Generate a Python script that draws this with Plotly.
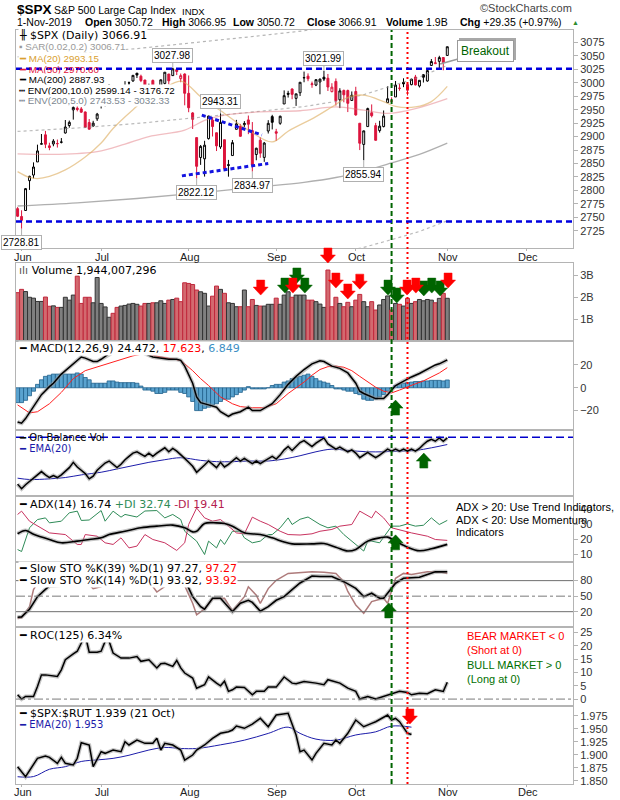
import plotly.graph_objects as go

# ---------------- data ----------------
MONTH_TICKS = [1, 21, 43, 65, 85, 108, 128]
MONTH_LABELS = ["Jun", "Jul", "Aug", "Sep", "Oct", "Nov", "Dec"]

PREV_CLOSE = 2788.86  # close before the first visible bar

OPEN = [
    2766.15, 2751.53, 2762.64, 2818.09, 2828.51, 2852.87, 2885.83, 2903.27, 2882.73, 2886.24,
    2886.82, 2889.75, 2906.71, 2920.55, 2949.60, 2952.71, 2951.42, 2945.78, 2926.07, 2919.66,
    2932.94, 2971.41, 2964.66, 2978.08, 2984.25, 2979.77, 2965.52, 2989.30, 2999.62, 3003.36,
    3017.80, 3012.13, 3005.10, 2978.87, 3004.26, 2981.93, 2994.74, 2998.77, 3016.26, 3013.25,
    3024.47, 3007.66, 3016.22, 2980.32, 2943.90, 2898.07, 2861.18, 2858.65, 2896.21, 2930.51,
    2907.07, 2880.72, 2894.15, 2846.20, 2864.74, 2913.48, 2919.01, 2922.04, 2930.94, 2911.07,
    2866.70, 2893.14, 2861.28, 2910.37, 2937.09, 2909.01, 2924.67, 2960.60, 2980.33, 2988.43,
    2971.01, 2981.41, 3009.08, 3012.21, 2996.41, 2995.67, 3001.50, 3010.36, 3008.42, 2983.50,
    3002.43, 2968.35, 2985.73, 2985.47, 2967.07, 2983.69, 2924.78, 2885.38, 2918.56, 2944.23,
    2920.40, 2911.10, 2918.55, 2963.07, 2965.81, 2973.61, 2989.68, 3000.77, 2996.84, 2996.48,
    3010.73, 2994.01, 3014.78, 3003.32, 3032.12, 3035.39, 3039.74, 3046.90, 3050.72,
]
HIGH = [
    2768.98, 2763.07, 2804.49, 2827.28, 2852.10, 2884.97, 2904.77, 2910.61, 2888.57, 2895.24,
    2894.45, 2897.27, 2930.79, 2929.74, 2958.06, 2964.15, 2954.92, 2946.52, 2932.59, 2929.30,
    2943.98, 2977.93, 2973.21, 2995.84, 2994.03, 2980.76, 2981.90, 3002.98, 3002.33, 3013.92,
    3017.80, 3015.02, 3005.26, 2998.28, 3006.02, 2990.71, 3005.90, 3019.59, 3016.31, 3027.98,
    3025.61, 3017.19, 3017.40, 3013.59, 2945.50, 2898.07, 2884.40, 2892.17, 2938.72, 2935.75,
    2907.58, 2943.31, 2894.15, 2856.67, 2893.63, 2931.00, 2923.63, 2928.73, 2939.08, 2927.01,
    2879.27, 2898.79, 2890.03, 2930.50, 2940.43, 2914.39, 2938.84, 2985.86, 2985.03, 2989.43,
    2979.39, 3000.93, 3020.74, 3017.33, 3002.19, 3006.21, 3007.83, 3021.99, 3016.37, 2999.15,
    3007.98, 2989.82, 2987.28, 2987.31, 2983.85, 2992.53, 2924.78, 2911.13, 2953.74, 2959.75,
    2925.47, 2929.32, 2948.46, 2993.28, 2972.84, 3003.28, 2997.54, 3008.29, 3000.00, 3007.33,
    3014.57, 3004.78, 3016.07, 3027.39, 3044.08, 3047.87, 3050.10, 3046.90, 3066.95,
]
LOW = [
    2750.52, 2728.81, 2762.64, 2800.92, 2822.45, 2852.87, 2885.51, 2878.53, 2874.68, 2881.99,
    2879.62, 2887.30, 2905.44, 2916.51, 2931.50, 2946.87, 2944.05, 2916.01, 2912.99, 2918.57,
    2929.05, 2952.22, 2955.92, 2977.96, 2967.97, 2970.09, 2963.44, 2984.62, 2988.80, 3001.87,
    3008.77, 3001.15, 2984.25, 2973.09, 2975.86, 2976.65, 2988.56, 2996.82, 2997.24, 3012.59,
    3014.30, 3000.94, 2958.08, 2945.23, 2914.11, 2822.12, 2847.42, 2825.71, 2894.47, 2900.15,
    2873.14, 2877.05, 2839.64, 2825.51, 2864.74, 2913.48, 2899.60, 2917.91, 2904.51, 2834.97,
    2856.00, 2860.59, 2853.05, 2905.67, 2913.32, 2891.85, 2921.86, 2960.60, 2972.51, 2969.39,
    2957.01, 2975.31, 3000.92, 3002.90, 2990.67, 2993.73, 2978.57, 3003.16, 2984.68, 2982.23,
    2957.73, 2952.86, 2963.71, 2945.53, 2967.07, 2938.70, 2874.93, 2855.94, 2918.56, 2935.68,
    2892.66, 2907.41, 2917.12, 2963.07, 2962.94, 2973.61, 2985.20, 2991.79, 2976.31, 2995.35,
    2995.04, 2991.21, 3000.42, 3001.94, 3032.12, 3034.81, 3025.96, 3023.19, 3050.72,
]
CLOSE = [
    2752.06, 2744.45, 2803.27, 2826.15, 2843.49, 2873.34, 2886.73, 2885.72, 2879.84, 2891.64,
    2886.98, 2889.67, 2917.75, 2926.46, 2954.18, 2950.46, 2945.35, 2917.38, 2913.78, 2924.92,
    2941.76, 2964.33, 2973.01, 2995.82, 2990.41, 2975.95, 2979.63, 2993.07, 2999.91, 3013.77,
    3014.30, 3004.04, 2984.42, 2995.11, 2976.61, 2985.03, 3005.47, 3019.56, 3003.67, 3025.86,
    3020.97, 3013.18, 2980.38, 2953.56, 2932.05, 2844.74, 2881.77, 2883.98, 2938.09, 2918.65,
    2882.70, 2926.32, 2840.60, 2847.60, 2888.68, 2923.65, 2900.51, 2924.43, 2922.95, 2847.11,
    2878.38, 2869.16, 2887.94, 2924.58, 2926.46, 2906.27, 2937.78, 2976.00, 2978.71, 2978.43,
    2979.39, 3000.93, 3009.57, 3007.39, 2997.96, 3005.70, 3006.73, 3006.79, 2992.07, 2991.78,
    2966.60, 2984.87, 2977.62, 2961.79, 2976.74, 2940.25, 2887.61, 2910.63, 2952.01, 2938.79,
    2893.06, 2919.40, 2938.13, 2970.27, 2966.15, 2995.68, 2989.69, 2997.95, 2986.20, 3006.72,
    2995.99, 3004.52, 3010.29, 3022.55, 3039.42, 3036.89, 3046.77, 3037.56, 3066.91,
]
DAY = list(range(len(CLOSE)))

# volume, billions of shares
VOLUME_B = [
    2.20, 2.35, 2.25, 1.99, 1.95, 1.80, 1.80, 2.00, 1.58, 1.60,
    1.53, 1.53, 1.99, 1.86, 2.09, 2.95, 1.71, 1.99, 1.99, 1.74,
    2.89, 1.71, 1.55, 1.08, 1.26, 1.53, 1.59, 1.62, 1.68, 1.71,
    1.67, 1.59, 1.71, 1.71, 1.74, 1.74, 1.83, 1.71, 1.86, 1.89,
    1.95, 1.79, 2.65, 2.62, 2.57, 2.32, 2.24, 2.17, 1.59, 2.04,
    2.50, 2.35, 2.17, 1.74, 1.71, 1.56, 1.56, 2.32, 1.56, 1.89,
    1.62, 1.59, 1.59, 1.67, 1.67, 1.95, 1.67, 2.09, 2.24, 1.99,
    2.09, 2.09, 2.09, 1.86, 1.86, 1.79, 1.68, 1.53, 3.23, 1.56,
    1.99, 1.71, 1.56, 1.76, 1.56, 1.86, 2.12, 1.79, 1.56, 1.79,
    1.41, 1.64, 1.89, 2.05, 1.41, 1.71, 1.67, 1.59, 1.94, 1.71,
    1.79, 1.89, 1.83, 1.89, 1.86, 1.74, 1.94, 2.17, 1.944,
]

MA20_X = [0, 3, 5, 8, 12, 17, 21, 24, 29, 34, 38, 41, 43, 46, 52, 58, 64, 68, 75, 79, 83, 87, 92, 95, 100, 104, 108]
MA20 = [2835, 2824, 2822, 2826, 2838, 2862, 2888, 2915, 2950, 2980, 2995, 3003, 2995, 2974, 2943, 2912, 2890,
        2910, 2937, 2955, 2973, 2977, 2965, 2956, 2955, 2965, 2993.15]
MA50_X = [0, 10, 20, 27, 33, 42, 47, 52, 61, 71, 80, 87, 93, 100, 108]
MA50 = [2868, 2867, 2872, 2886, 2900, 2912, 2930, 2940, 2946, 2948, 2955, 2949, 2943, 2952, 2970.60]
MA200_X = [0, 15, 30, 45, 60, 72, 80, 87, 94, 101, 108]
MA200 = [2771, 2777, 2785, 2795, 2806, 2815, 2824, 2836, 2851, 2867, 2887.93]
ENV5_UP = [2909.6, 2915.9, 2924.3, 2934.8, 2946.3, 2955.8, 2965.2, 2977.8, 2993.6, 3010.4, 3032.33]
ENV5_LO = [2632.5, 2638.2, 2645.8, 2655.3, 2665.7, 2674.3, 2682.8, 2694.2, 2708.5, 2723.7, 2743.53]
ENV10_UP = [3048.1, 3054.7, 3063.5, 3074.5, 3086.6, 3096.5, 3106.4, 3119.6, 3136.1, 3153.7, 3176.72]

RESISTANCE = 3026
SUPPORT = 2742
TRI_UP_X, TRI_UP_Y = [46.3, 61.4], [2940, 2903]
TRI_LO_X, TRI_LO_Y = [41.3, 63.0], [2827, 2850]
HIGH_LABELS = [39, 51, 77]
LOW_LABELS = [1, 45, 59, 87]
BREAKOUT_AT = (106.2, 3035)
GREEN_DAY, RED_DAY = 94, 98

MACD_X = [0, 1, 2, 4, 6, 8, 9, 11, 13, 14, 16, 17, 19, 20, 21, 23, 25, 27, 29, 31, 32, 34, 36, 38, 40, 41, 42,
          43, 44, 45, 46, 48, 50, 51, 53, 54, 56, 58, 59, 61, 62, 64, 66, 68, 70, 72, 74, 76, 77, 79, 81, 83,
          85, 86, 87, 89, 90, 92, 93, 95, 97, 99, 101, 103, 105, 106, 107, 108]
MACD_LINE = [-30, -31, -27, -17, -6, 1, 4, 12, 18, 21, 27, 26, 23, 23, 25, 30, 33, 34, 35, 33, 30, 27, 26, 25,
             25, 24, 19, 12, 4, -8, -13, -15, -17, -21, -25, -23, -21, -17, -20, -20, -18, -14, -6, 3, 10, 16,
             21, 23.7, 23, 19, 17, 13, 4, -3, -5, -8, -9.5, -9.5, -6, 2, 6, 9.5, 12.5, 16, 20, 21, 22.5, 24.47]
SIGNAL_X = [0, 2, 3, 5, 8, 11, 14, 17, 21, 25, 29, 32, 36, 41, 43, 44, 46, 48, 51, 54, 56, 59, 62, 65, 68, 70,
            72, 74, 76, 78, 80, 82, 84, 86, 88, 90, 92, 94, 96, 98, 100, 102, 104, 106, 108]
SIGNAL = [-15, -20, -22, -21, -14, -4, 8, 15, 19.5, 24, 28, 30, 27, 24, 18, 15, 8, 2, -8, -14, -16.5, -17.5,
          -17.5, -14, -5, 0, 5, 11, 16, 18.5, 19, 18, 15, 10, 5, 0.5, -3, -4.5, -2, 1, 3.5, 6, 9.5, 13, 17.62]
MACD_HIST = [
    -13, -13, -11, -7, -3, 3, 7, 10, 11, 12,
    12, 12, 12, 12, 12, 13, 12, 9, 7, 4,
    4, 4, 4, 6, 6, 5, 4.5, 4.5, 4.5, 4.5,
    4, 1.5, -2, -2, -3, -5, -5, -4, -2, -2,
    -2, -4, -5, -8, -12, -20, -20, -18, -17, -15,
    -14, -12, -10, -10, -8, -6, -4, -2, 1, -1,
    -1, -1, -1, 0, 2, 3, 3, 5, 6, 8,
    9, 10, 11, 12, 10, 8, 6, 5, 4, 2,
    -1, -1, -2, -3, -3, -5, -6, -10, -11, -11,
    -10, -8, -6, -3, -1, 2, 3, 4, 4.5, 5,
    5.5, 5.5, 6, 6, 6.5, 6.5, 6.5, 6, 6.85,
]

OBV = [
    1.8, 1.1, 1.7, 2.2, 2.7, 3.2, 3.7, 3.2, 2.8, 3.1,
    2.8, 3.2, 3.7, 4.3, 5.1, 4.4, 3.9, 3.4, 2.6, 3.0,
    3.9, 4.5, 5.0, 5.3, 4.8, 4.3, 4.8, 5.5, 6.0, 6.5,
    6.7, 6.3, 6.0, 6.5, 6.0, 6.5, 6.9, 7.3, 6.7, 7.2,
    6.8, 6.3, 5.7, 5.1, 4.5, 3.6, 4.1, 4.7, 5.3, 4.8,
    4.3, 5.1, 4.4, 4.8, 5.3, 5.8, 5.3, 5.7, 5.3, 4.9,
    5.3, 4.9, 5.3, 5.7, 6.0, 5.6, 6.2, 7.0, 7.5, 6.9,
    7.5, 8.1, 8.4, 7.9, 7.5, 8.0, 8.4, 8.8, 7.9, 7.5,
    7.1, 7.4, 7.0, 6.7, 7.0, 6.5, 5.8, 6.2, 6.6, 6.2,
    5.8, 6.2, 6.6, 7.1, 6.8, 7.1, 6.8, 7.1, 6.8, 7.1,
    6.8, 7.2, 7.8, 8.3, 8.6, 8.3, 8.8, 8.3, 8.8,
]
OBV_EMA_X = [0, 3, 8, 12, 16, 21, 25, 29, 33, 37, 41, 46, 50, 54, 58, 63, 67, 71, 75, 79, 83, 88, 92, 96, 100, 104, 108]
OBV_EMA = [2.7, 2.5, 2.6, 2.8, 3.2, 3.6, 4.1, 4.6, 5.1, 5.5, 5.8, 5.4, 5.2, 5.2, 5.3, 5.3, 5.6, 6.1, 6.7, 7.1,
           6.9, 6.7, 6.7, 6.8, 6.9, 7.3, 7.8]
OBV_LEVEL = 8.9

ADX_X = [0, 2, 4, 8, 11, 15, 18, 21, 23, 27, 31, 35, 39, 42, 44, 45, 47, 50, 52, 54, 57, 61, 64, 67, 69, 74, 77,
         80, 83, 85, 88, 91, 93, 95, 98, 101, 104, 108]
ADX = [23.8, 26, 23.5, 20, 17.8, 18.9, 20, 21.1, 23.3, 25.5, 27.8, 28.9, 29.6, 27.8, 25.1, 25.5, 30.7, 31.1,
       30.7, 28.9, 24.5, 23.3, 21.1, 18.3, 17.1, 17.1, 17.3, 14.9, 12.3, 13.4, 18.9, 21.1, 21.6, 18.9, 14.9,
       12.5, 13.8, 16.74]
PDI_X = [0, 1, 3, 5, 7, 8, 11, 13, 15, 16, 18, 21, 22, 24, 26, 27, 30, 32, 35, 37, 39, 41, 42, 45, 47, 48, 50,
         51, 52, 54, 56, 57, 59, 61, 63, 64, 66, 68, 69, 71, 73, 76, 78, 80, 82, 84, 87, 88, 89, 91, 93, 94, 96,
         98, 100, 102, 104, 106, 108]
PDI = [13.3, 12, 27.8, 33.3, 34.4, 31.1, 32.2, 37.8, 38.9, 32.7, 33, 39.3, 32.2, 38.9, 34.9, 36.7, 35, 39,
       39.3, 34.4, 36.7, 33.3, 25.5, 18.9, 10, 18.9, 14.4, 20, 16.7, 25.5, 25.5, 21.1, 17.8, 18.9, 23.3, 23.3,
       27.8, 34.4, 30, 33.5, 35, 30, 27.8, 28.9, 23.3, 18.9, 12.3, 18.9, 18.9, 17.8, 25.5, 28.9, 28.9, 30.4,
       28.9, 29.5, 34.4, 30, 32.74]
MDI_X = [0, 1, 3, 6, 8, 12, 15, 16, 17, 20, 22, 24, 26, 28, 30, 32, 34, 37, 40, 42, 43, 45, 47, 49, 51, 53, 55,
         57, 59, 61, 63, 66, 68, 71, 74, 76, 79, 81, 84, 86, 89, 90, 92, 94, 97, 99, 103, 105, 108]
MDI = [36.7, 38.9, 32.2, 27.8, 24.4, 23.3, 16.7, 16.7, 23.3, 22.2, 17.8, 16.7, 21.1, 14.4, 15.6, 23.3, 20,
       17.8, 12.7, 17.8, 30, 41, 34.4, 32.2, 33.3, 28.9, 24.4, 23.8, 34.9, 32.2, 30, 25.5, 23.3, 23, 23.8,
       25.5, 26.7, 28.9, 30, 38.9, 34.4, 38.9, 34.4, 27.8, 25.5, 24.4, 22.2, 20, 19.41]

STO39_X = [0, 1, 3, 5, 7, 8, 11, 14, 17, 20, 23, 26, 29, 32, 35, 38, 40, 42, 43, 44, 46, 47, 49, 51, 54, 56, 58,
           59, 61, 63, 65, 67, 69, 71, 74, 76, 79, 82, 85, 87, 89, 91, 92, 94, 95, 97, 101, 103, 105, 108]
STO39 = [9.2, 10, 24.7, 49, 63, 69.7, 71.6, 80, 85, 85, 92, 93, 96, 92, 88, 92, 95, 82, 65, 49, 29.7, 24.7, 46,
         46, 20, 36.3, 42, 38, 21, 29.7, 42, 49, 62.6, 75.5, 89, 88, 88, 78, 65, 49, 55.6, 46, 46, 65, 75,
         84.6, 86.5, 92, 97, 97.27]
STO14_X = [0, 1, 3, 4, 5, 7, 9, 11, 13, 15, 17, 18, 19, 21, 22, 24, 26, 28, 30, 32, 34, 35, 37, 38, 40, 41, 42,
           44, 45, 47, 49, 52, 54, 57, 58, 60, 61, 63, 65, 68, 71, 74, 77, 80, 82, 83, 85, 87, 89, 92, 93, 95,
           97, 99, 103, 106, 108]
STO14 = [7, 8, 29.7, 62.6, 75, 85, 80, 84, 92, 95, 80, 71.5, 64.6, 68.5, 90, 97, 92, 96, 97, 80, 68.5, 58, 68.5,
         85, 97, 95, 70, 36.3, 14, 25.4, 45, 46, 22, 49, 68, 52, 36, 64.6, 80.7, 94, 95, 97, 96, 94, 78, 59, 33,
         17, 39.5, 46, 36, 84.6, 94, 92, 97, 97, 93.92]

ROC_X = [0, 1, 2, 4, 5, 6, 7, 9, 10, 11, 12, 14, 15, 16, 17, 18, 19, 20, 21, 22, 23, 24, 26, 28, 30, 31, 33, 35,
         36, 37, 39, 40, 41, 42, 44, 45, 47, 48, 50, 51, 52, 53, 54, 55, 57, 59, 60, 62, 63, 65, 67, 69, 70, 72,
         75, 77, 78, 81, 83, 85, 86, 88, 90, 92, 93, 94, 96, 98, 99, 101, 103, 105, 107, 108]
ROC = [1.6, 0, 1, 1, 4.7, 9.1, 9.1, 8.8, 8.5, 11, 14.8, 17, 18, 21, 24, 17.6, 17.5, 17.6, 18, 21.7, 21.7, 17.3,
       15.4, 15.4, 16, 14.2, 14.8, 11.7, 13.3, 13.5, 12.3, 14.5, 11.7, 9.8, 7.9, 4.1, 5.4, 8.3, 6, 5, 6.7, 2.9,
       3.5, 4.5, 4.4, 1.6, 2.9, 2.9, 4.5, 4.5, 8.3, 6, 5.8, 6.6, 6, 5.4, 7.3, 6, 4.1, 2.9, 0, 1, 0, 1, 1.3, 2,
       2.9, 2.5, 1.6, 2.2, 2, 3.5, 2.9, 6.34]

RATIO_X = [0, 2, 5, 7, 8, 10, 11, 12, 14, 15, 16, 18, 19, 21, 22, 24, 26, 27, 28, 30, 32, 34, 35, 36, 37, 39, 41,
           42, 44, 45, 47, 49, 51, 53, 54, 55, 57, 59, 61, 63, 65, 67, 68, 70, 71, 72, 74, 75, 77, 79, 80, 81,
           83, 85, 87, 89, 90, 93, 94, 95, 96, 98, 99]
RATIO = [1.8769, 1.8577, 1.8931, 1.8975, 1.8950, 1.8835, 1.8950, 1.8835, 1.8802, 1.8931, 1.9231, 1.9187,
         1.8769, 1.9058, 1.9027, 1.9090, 1.9058, 1.9250, 1.9187, 1.9283, 1.9219, 1.9219, 1.9315, 1.9090,
         1.9219, 1.9187, 1.9090, 1.8898, 1.8994, 1.9090, 1.9187, 1.9315, 1.9412, 1.9442, 1.9475, 1.9552,
         1.9508, 1.9590, 1.9700, 1.9538, 1.9763, 1.9783, 1.9796, 1.9379, 1.9058, 1.9090, 1.8898, 1.9027,
         1.9219, 1.9187, 1.9283, 1.9219, 1.9412, 1.9667, 1.9538, 1.9604, 1.9635, 1.9763, 1.9667, 1.9700,
         1.9635, 1.9412, 1.939]
RATIO_EMA_X = [0, 4, 8, 12, 16, 20, 24, 28, 33, 37, 41, 45, 51, 57, 63, 68, 71, 75, 80, 85, 90, 94, 99]
RATIO_EMA = [1.8577, 1.858, 1.872, 1.877, 1.887, 1.890, 1.893, 1.899, 1.909, 1.914, 1.912, 1.912, 1.919,
             1.928, 1.941, 1.953, 1.941, 1.930, 1.928, 1.938, 1.944, 1.955, 1.953]

# annotation arrows: (day, value at arrow tip)
VOL_RED_ARROWS = [(61.1, 2.09), (69.2, 2.18), (80.0, 2.41), (83.0, 1.91), (86.0, 2.36),
                  (97.9, 2.09), (100.1, 2.18), (108.2, 2.41)]
VOL_GREEN_ARROWS = [(67.2, 2.18), (70.2, 2.64), (72.2, 2.18), (93.1, 2.09), (95.3, 1.73),
                    (102.1, 2.05), (104.1, 2.18), (106.2, 2.05)]
VOL_TOP_ARROW_DAY = 78.0
MACD_UP_ARROW = (95.0, -10.8)
OBV_UP_ARROW = (102.1, 6.5)
ADX_UP_ARROW = (95.0, 23.1)
STO_UP_ARROW = (93.3, 36.9)
RATIO_DOWN_ARROW = (98.6, 1.959)

# ---------------- layout helpers ----------------
W, H = 620, 800
ML, MR, MT, MB = 16, 47, 30, 16
PW, PH = W - ML - MR, H - MT - MB
XR = [-0.4, 139.6]
BORDER = "#b4b4b4"
ARIAL = "Liberation Sans, Arial, sans-serif"
VERD = "DejaVu Sans, Verdana, sans-serif"
TICKFONT = dict(family=ARIAL, size=11, color="#333")
RED, GREEN = "#ff0000", "#006400"


def px(x):
    return (x - ML) / PW


def py(y):
    return (H - MB - y) / PH


# panel: (top px, bottom px, y range, tick values, tick text)
PANELS = [
    (30, 248, [2693, 3098], list(range(2725, 3076, 25)), None),
    (263, 341, [0, 3.55], [1, 2, 3], ["1B", "2B", "3B"]),
    (341, 430, [-37, 41], [-20, 0, 20], None),
    (430, 496, [0, 10], [], None),
    (496, 562, [5, 49], [10, 20, 30, 40], None),
    (562, 627, [-9.6, 116], [20, 50, 80], None),
    (627, 706, [-2.6, 27.1], [0, 5, 10, 15, 20, 25], None),
    (706, 784, [1.8437, 1.9937], [1.85, 1.875, 1.9, 1.925, 1.95, 1.975],
     ["1.850", "1.875", "1.900", "1.925", "1.950", "1.975"]),
]

fig = go.Figure()
layout = dict(width=W, height=H, margin=dict(l=ML, r=MR, t=MT, b=MB), paper_bgcolor="white",
              plot_bgcolor="white", showlegend=False, template="none")

for n, (top, bot, yr, tv, tt) in enumerate(PANELS, start=1):
    sx = "" if n == 1 else str(n)
    labels = n in (1, 8)
    layout["xaxis" + sx] = dict(
        domain=[0, 1], range=XR, anchor="y" + sx, showline=True, mirror=True, linecolor=BORDER,
        linewidth=1, showgrid=False, zeroline=False, tickvals=MONTH_TICKS if labels else [],
        showticklabels=False, ticks="outside" if labels else "", ticklen=2, tickcolor=BORDER,
        fixedrange=True, automargin=False)
    layout["yaxis" + sx] = dict(
        domain=[py(bot), py(top)], range=yr, anchor="x" + sx, side="right", showline=True, mirror=True,
        linecolor=BORDER, linewidth=1, showgrid=False, zeroline=False, tickvals=tv, ticktext=tt,
        ticks="outside", ticklen=4, tickcolor=BORDER, tickfont=TICKFONT, fixedrange=True,
        automargin=False)
layout["xaxis"]["rangeslider"] = dict(visible=False)


def line(x, y, n, color, width=1.0, dash=None, shadow=False, shape="linear"):
    sx = "" if n == 1 else str(n)
    if shadow:
        fig.add_trace(go.Scatter(x=x, y=y, mode="lines", xaxis="x" + sx, yaxis="y" + sx, hoverinfo="skip",
                                 line=dict(color="rgba(150,150,150,0.55)", width=width + 2.5, shape=shape)))
    fig.add_trace(go.Scatter(x=x, y=y, mode="lines", xaxis="x" + sx, yaxis="y" + sx, hoverinfo="skip",
                             line=dict(color=color, width=width, dash=dash, shape=shape)))


def prev_close(i):
    return CLOSE[i - 1] if i else PREV_CLOSE


up_days = [i for i in DAY if CLOSE[i] >= prev_close(i)]
down_days = [i for i in DAY if CLOSE[i] < prev_close(i)]

# ---- price panel ----
line(MA200_X, ENV10_UP, 1, "rgba(120,120,120,0.55)", 1.2, "dot")
line(MA200_X, ENV5_UP, 1, "rgba(140,140,140,0.6)", 1.2, "dot")
line(MA200_X, ENV5_LO, 1, "rgba(140,140,140,0.6)", 1.2, "dot")
line(MA200_X, MA200, 1, "rgba(110,110,110,0.55)", 1.3, shape="spline")
line(MA50_X, MA50, 1, "rgba(225,110,120,0.45)", 1.3, shape="spline")
line(MA20_X, MA20, 1, "rgba(220,170,90,0.6)", 1.3, shape="spline")

for ids, col in ((up_days, "#000000"), (down_days, "#dc143c")):
    fig.add_trace(go.Candlestick(
        x=ids, open=[OPEN[i] for i in ids], high=[HIGH[i] for i in ids], low=[LOW[i] for i in ids],
        close=[CLOSE[i] for i in ids], xaxis="x", yaxis="y", whiskerwidth=0, hoverinfo="skip",
        increasing=dict(line=dict(color=col, width=1), fillcolor="white"),
        decreasing=dict(line=dict(color=col, width=1), fillcolor=col)))

line(TRI_UP_X, TRI_UP_Y, 1, "#1414e0", 3, "4px,3px")
line(TRI_LO_X, TRI_LO_Y, 1, "#1414e0", 3, "4px,3px")

# ---- volume ----
vol_fill = ["#d3696f" if CLOSE[i] < prev_close(i) else "#7f7f7f" for i in DAY]
vol_edge = ["#c0283c" if CLOSE[i] < prev_close(i) else "#333333" for i in DAY]
fig.add_trace(go.Bar(x=DAY, y=VOLUME_B, xaxis="x2", yaxis="y2", width=1.0, hoverinfo="skip",
                     marker=dict(color=vol_fill, line=dict(color=vol_edge, width=1))))

# ---- MACD ----
fig.add_trace(go.Bar(x=DAY, y=MACD_HIST, xaxis="x3", yaxis="y3", width=1.0, hoverinfo="skip",
                     marker=dict(color="#5aa3cf", line=dict(color="#21618c", width=0.8))))
line(SIGNAL_X, SIGNAL, 3, "#ff2020", 1.0)
line(MACD_X, MACD_LINE, 3, "#000000", 1.5, shadow=True)

# ---- OBV ----
line(OBV_EMA_X, OBV_EMA, 4, "#1c1caa", 1.0, shape="spline")
line(DAY, OBV, 4, "#000000", 1.5, shadow=True)

# ---- ADX ----
line(PDI_X, PDI, 5, "#2e8b57", 1.0)
line(MDI_X, MDI, 5, "#c8325f", 1.0)
line(ADX_X, ADX, 5, "#000000", 1.6, shadow=True, shape="spline")

# ---- STO ----
line(STO14_X, STO14, 6, "rgba(160,100,100,0.85)", 1.5)
line(STO39_X, STO39, 6, "#000000", 1.6, shadow=True)

# ---- ROC ----
line(ROC_X, ROC, 7, "#000000", 1.5, shadow=True)

# ---- ratio ----
line(RATIO_EMA_X, RATIO_EMA, 8, "#1c1caa", 1.0, shape="spline")
line(RATIO_X, RATIO, 8, "#000000", 1.5, shadow=True)

# ---------------- shapes ----------------
shapes = []


def hline(n, y, color, width, dash):
    sx = "" if n == 1 else str(n)
    shapes.append(dict(type="line", xref="x%s domain" % sx, yref="y" + sx, x0=0, x1=1, y0=y, y1=y,
                       line=dict(color=color, width=width, dash=dash), layer="above"))


hline(6, 80, "#6e6e6e", 1, "solid")
hline(6, 20, "#6e6e6e", 1, "solid")
hline(6, 50, "#7a7a7a", 1, "dashdot")
hline(7, 0, "#7a7a7a", 1, "dashdot")

DOWN = "M -4,15 L 4,15 L 4,8 L 7.5,8 L 0,0 L -7.5,8 L -4,8 Z"
UP = "M -4,-15 L 4,-15 L 4,-8 L 7.5,-8 L 0,0 L -7.5,-8 L -4,-8 Z"


def arrow(n, xa, ya, path, color, yref=None):
    sx = "" if n == 1 else str(n)
    shapes.append(dict(type="path", xref="x" + sx, yref=yref or "y" + sx, xsizemode="pixel",
                       ysizemode="pixel", xanchor=xa, yanchor=ya, path=path, fillcolor=color,
                       line=dict(color=color, width=0.5), layer="above"))


for d, v in VOL_GREEN_ARROWS:
    arrow(2, d, v, DOWN, GREEN)
for d, v in VOL_RED_ARROWS:
    arrow(2, d, v, DOWN, RED)
arrow(2, VOL_TOP_ARROW_DAY, py(PANELS[1][0]), DOWN, RED, yref="paper")
arrow(3, *MACD_UP_ARROW, UP, GREEN)
arrow(4, *OBV_UP_ARROW, UP, GREEN)
arrow(5, *ADX_UP_ARROW, UP, GREEN)
arrow(6, *STO_UP_ARROW, UP, GREEN)
arrow(8, *RATIO_DOWN_ARROW, DOWN, RED)

# vertical signal lines through all panels
shapes.append(dict(type="line", xref="x", yref="paper", x0=GREEN_DAY, x1=GREEN_DAY, y0=0, y1=1,
                   line=dict(color=GREEN, width=2, dash="5px,3px"), layer="above"))
shapes.append(dict(type="line", xref="x", yref="paper", x0=RED_DAY, x1=RED_DAY, y0=0, y1=1,
                   line=dict(color=RED, width=2, dash="2px,3px"), layer="above"))

# ---------------- annotations ----------------
ann = []


def note(x, y, text, size=11, family=VERD, color="#000", bg=None, xanchor="left"):
    d = dict(xref="paper", yref="paper", x=px(x), y=py(y), text=text, showarrow=False, xanchor=xanchor,
             yanchor="middle", font=dict(family=family, size=size, color=color), borderpad=0)
    if bg:
        d["bgcolor"] = bg
    ann.append(d)


def c(color, text):
    return '<span style="color:%s">%s</span>' % (color, text)


SW = "━"
# header
note(16, 10, "<b>$SPX</b>", 13.5, ARIAL)
note(53, 10.5, "S&P 500 Large Cap Index", 10.5, ARIAL)
note(181, 11, "INDX", 9.5, ARIAL)
note(573, 8.5, "©StockCharts.com", 11, ARIAL, "#444", xanchor="right")
note(16, 22.5, "1-Nov-2019", 10.5, ARIAL)
for x0, lab, val in ((84, "Open", "3050.72"), (161, "High", "3066.95"), (232, "Low", "3050.72"),
                     (306, "Close", "3066.91"), (385, "Volume", "1.9B"), (459, "Chg", "+29.35 (+0.97%)")):
    note(x0, 22.5, "<b>%s</b> %s" % (lab, val), 10.5, ARIAL)
note(571, 22.5, "▲", 7, ARIAL, "#2e8b2e")

# month labels under the price panel and under the last panel
for yy, ax_id in ((256.5, "x"), (792, "x8")):
    for t, lab in zip(MONTH_TICKS, MONTH_LABELS):
        ann.append(dict(xref=ax_id, yref="paper", x=t, y=py(yy), text=lab, showarrow=False,
                        xanchor="center", yanchor="middle", xshift=1,
                        font=dict(family=ARIAL, size=11, color="#222")))

# price legend (overlay lines use a smaller face than the first line)
note(18, 35.5, "╫ $SPX (Daily) 3066.91", bg="white")
note(18, 46.5, c("#9a9a9a", "▪ SAR(0.02,0.2) 3006.71"), 9.8, ARIAL, bg="white")
note(18, 58, c("#d9a030", SW + " MA(20) 2993.15"), 9.8, ARIAL, bg="white")
note(18, 69, c("#e0143c", SW + " MA(50) 2970.60"), 9.8, ARIAL)
note(18, 80, SW + " MA(200) 2887.93", 9.8, ARIAL, bg="white")
note(18, 90.5, "┅ ENV(200,10.0) 2599.14 - 3176.72", 9.8, ARIAL, bg="white")
note(18, 101, c("#7d8790", "┅ ENV(200,5.0) 2743.53 - 3032.33"), 9.8, ARIAL, bg="white")

note(18, 270.5, c("#555", "ılı") + " Volume 1,944,007,296")
note(18, 348, SW + " MACD(12,26,9) 24.472, " + c("#ff0000", "17.623") + ", " + c("#3d8fc4", "6.849"),
     bg="white")
note(18, 437.5, SW + " On Balance Vol", 10)
note(18, 448.5, c("#1c1caa", SW + " EMA(20)"), 10)
note(18, 504.5, SW + " ADX(14) 16.74 " + c("#2e8b57", "+DI 32.74") + " " + c("#b4204e", "-DI 19.41"))
note(18, 568.5, SW + " Slow STO %K(39) %D(1) 97.27, " + c("#ff0000", "97.27"), bg="white")
note(18, 580, SW + " Slow STO %K(14) %D(1) 93.92, " + c("#ff0000", "93.92"), bg="white")
note(18, 635.5, SW + " ROC(125) 6.34%", bg="white")
note(18, 713.5, SW + " $SPX:$RUT 1.939 (21 Oct)")
note(18, 724.5, c("#1c1caa", SW + " EMA(20) 1.953"), 10)

note(455, 507, "ADX > 20: Use Trend Indicators,", 11, ARIAL)
note(455, 519.7, "ADX < 20: Use Momentum", 11, ARIAL)
note(455, 532.4, "Indicators", 11, ARIAL)
note(466, 635.5, "BEAR MARKET < 0", 11, ARIAL, RED)
note(466, 650, "(Short at 0)", 11, ARIAL, RED)
note(466, 664.5, "BULL MARKET > 0", 11, ARIAL, "#007000")
note(466, 679, "(Long at 0)", 11, ARIAL, "#007000")

# price callouts on swing highs / lows
for i in HIGH_LABELS:
    ann.append(dict(xref="x", yref="y", x=i, y=HIGH[i], text="%.2f" % HIGH[i], showarrow=True, ax=0, ay=-12,
                    arrowhead=0, arrowcolor="#b0b0b0", arrowwidth=1, bgcolor="white", bordercolor="#b0b0b0",
                    borderwidth=1, borderpad=1, font=dict(family=ARIAL, size=10, color="#000")))
for i in LOW_LABELS:
    ann.append(dict(xref="x", yref="y", x=i, y=LOW[i], text="%.2f" % LOW[i], showarrow=True, ax=0, ay=14,
                    arrowhead=0, arrowcolor="#b0b0b0", arrowwidth=1, bgcolor="white", bordercolor="#b0b0b0",
                    borderwidth=1, borderpad=1, font=dict(family=ARIAL, size=10, color="#000")))

bx, by = BREAKOUT_AT
ann.append(dict(xref="x", yref="y", x=bx, y=by, text="Breakout", showarrow=True, ax=47, ay=-15,
                arrowcolor="rgba(0,0,0,0)", arrowwidth=0.5, bgcolor="#a8a8a8", bordercolor="#a8a8a8",
                borderwidth=1, borderpad=3, font=dict(family=ARIAL, size=12, color="#a8a8a8")))
ann.append(dict(xref="x", yref="y", x=bx, y=by, text="Breakout", showarrow=True, ax=45, ay=-12.5,
                arrowhead=0, arrowcolor="#9a9a9a", arrowwidth=1.5, bgcolor="white", bordercolor="#9a9a9a",
                borderwidth=1, borderpad=3, font=dict(family=ARIAL, size=12, color="#006400")))

# horizontal support / resistance and OBV level (drawn last so they sit over legend boxes)
hline(1, RESISTANCE, "#0000e0", 2.5, "6px,4px")
hline(1, SUPPORT, "#0000e0", 2.5, "6px,4px")
hline(4, OBV_LEVEL, "#0000cc", 1.3, "8px,4px")

layout["shapes"] = shapes
layout["annotations"] = ann
fig.update_layout(**layout)
# the page's default 8px body margin would push the whole chart down and right
fig.write_html("out.html", config={"displayModeBar": False},
               post_script="document.body.style.margin='0px';")
